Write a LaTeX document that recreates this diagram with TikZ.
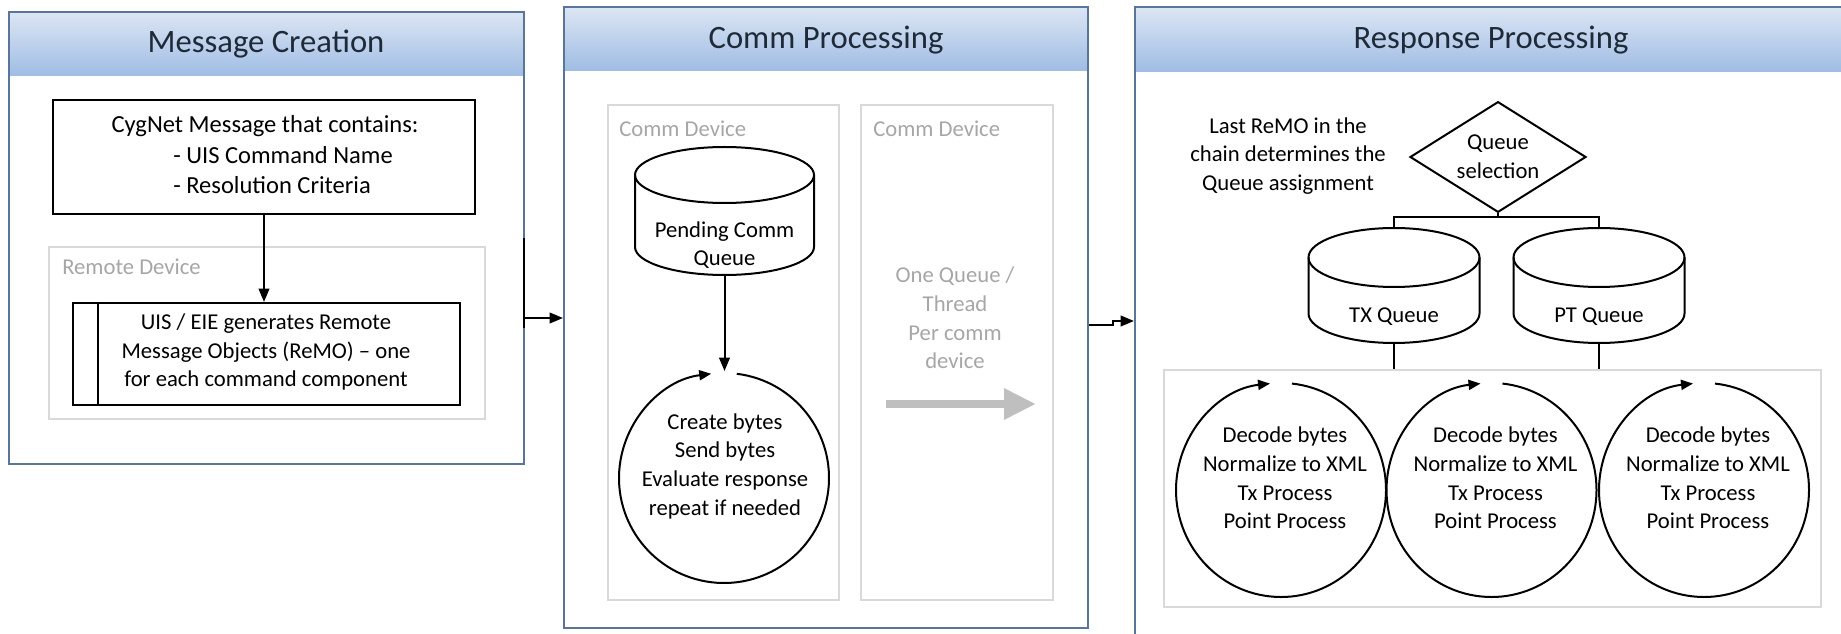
\documentclass[tikz,border=0pt]{standalone}
\usepackage{fontspec}
\setmainfont{Carlito}
\usetikzlibrary{arrows.meta,shapes.geometric,fit}

\definecolor{panelline}{HTML}{5B7599}
\definecolor{headtop}{HTML}{DCE6F4}
\definecolor{headbot}{HTML}{9FBCE4}
\definecolor{titletext}{HTML}{1F2A38}
\definecolor{grayline}{HTML}{D9D9D9}
\definecolor{graytext}{HTML}{A6A6A6}
\definecolor{grayarrow}{HTML}{BFBFBF}

\tikzset{
  line/.style={draw=black, line width=1.5pt},
  arrow/.style={line, -{Triangle[length=10pt,width=8pt]}},
  loop/.style={line, -{Triangle[length=9pt,width=7.5pt]}},
  box/.style={draw=black, line width=1.6pt, inner sep=0pt},
  grpbox/.style={draw=grayline, line width=1.3pt, inner sep=0pt},
  panel/.style={draw=panelline, line width=1.6pt, inner sep=0pt},
  txt/.style={inner sep=0.75pt, align=center, font=\fontsize{17}{21.5}\selectfont},
  bigtxt/.style={txt, font=\fontsize{18.4}{22}\selectfont},
  grptxt/.style={txt, text=graytext},
  title/.style={inner sep=0.75pt, font=\fontsize{24.5}{29}\selectfont, text=titletext},
  decision/.style={diamond, draw=black, line width=1.5pt, txt, aspect=1.6, minimum width=132pt, minimum height=83pt}
}

\begin{document}
\begin{tikzpicture}[x=0.75pt,y=0.75pt,yscale=-1,xscale=1]
%set diagram at 1841 x 634
\path[use as bounding box, clip] (0,0) rectangle (1841,634);

%Panel: Message Creation
\shade[top color=headtop, bottom color=headbot] (9,12) rectangle (524,76);
\node[panel, fit={(9,12) (524,464)}] (mc) {};
\node[title] (mctitle) at (266,44) {Message Creation};

%Shape: Rectangle [CygNet message]
\node[box, fit={(53,100) (475,214)}] (cyg) {};
% Text Node
\node[bigtxt] (cyg1) at (265,126) {CygNet Message that contains:};
% Text Node
\node[bigtxt, anchor=west] (cyg2) at (172,155) {- UIS Command Name};
% Text Node
\node[bigtxt, anchor=west] (cyg3) at (172,185) {- Resolution Criteria};

%Shape: Rectangle [remote device]
\node[grpbox, fit={(49,247) (485,419)}] (remote) {};
\node[grptxt, anchor=west] (remotelbl) at (61,267) {Remote Device};

%Shape: Predefined process [UIS / EIE]
\node[box, fit={(73,303) (460,405)}] (uis) {};
\draw[line] ([xshift=19.5pt]uis.north west) -- ([xshift=19.5pt]uis.south west);
% Text Node
\node[txt] (uistxt) at (266,352) {UIS / EIE generates Remote\\Message Objects (ReMO) – one\\for each command component};

%Straight Lines
\draw[arrow] (cyg.south) -- (cyg.south |- uis.north);

%Panel: Comm Processing
\shade[top color=headtop, bottom color=headbot] (564,7) rectangle (1088,71);
\node[panel, fit={(564,7) (1088,628)}] (cp) {};
\node[title] (cptitle) at (826,40) {Comm Processing};

%Connector Message Creation -> Comm Processing
\coordinate (j1) at (524,238);
\coordinate (j2) at (524,328);
\coordinate (j3) at (540,318);
\draw[line] (j1) -- (j2);
\draw[arrow] (mc.east |- j3) -- (cp.west |- j3);

%Shape: Rectangle [comm device 1]
\node[grpbox, fit={(608,105) (839,600)}] (dev1) {};
\node[grptxt, anchor=west] (dev1lbl) at (618,129) {Comm Device};

%Shape: Rectangle [comm device 2]
\node[grpbox, fit={(861,105) (1053,600)}] (dev2) {};
\node[grptxt, anchor=west] (dev2lbl) at (872,129) {Comm Device};

%Shape: Can [pending queue]
\draw[line] (724.5,175) ellipse [x radius=89.5, y radius=28];
\draw[line] (635,175) -- (635,247) arc [start angle=180, end angle=0, x radius=89.5, y radius=28] -- (814,175);
\coordinate (pendb) at (724.5,275);
% Text Node
\node[txt] (pend) at (724.5,245) {Pending Comm\\Queue};

%Shape: Circle [comm loop]
\coordinate (loop1) at (724,478);
\coordinate (loop1top) at (724.5,371);
\draw[loop] (loop1) ++(-83:105) arc [start angle=-83, end angle=263, radius=105];
% Text Node
\node[txt] (loop1txt) at (725,466) {Create bytes\\Send bytes\\Evaluate response\\repeat if needed};

%Straight Lines
\draw[arrow] (pendb) -- (loop1top);

% Text Node
\node[grptxt] (thread) at (955,318) {One Queue /\\Thread\\Per comm\\device};
%Right Arrow
\coordinate (ga1) at (886,404);
\coordinate (ga2) at (1036,404);
\draw[draw=grayarrow, line width=6pt, -{Triangle[length=24pt,width=22pt]}] (ga1) -- (ga2);

%Panel: Response Processing
\shade[top color=headtop, bottom color=headbot] (1135,7) rectangle (1900,72);
\node[panel, fit={(1135,7) (1900,700)}] (rp) {};
\node[title] (rptitle) at (1491,40) {Response Processing};

%Connector Comm Processing -> Response Processing
\coordinate (j4) at (1113,325);
\coordinate (j5) at (1120,321);
\draw[arrow] (cp.east |- j4) -- (j4) |- (rp.west |- j5);

% Text Node
\node[txt] (lastremo) at (1288,156) {Last ReMO in the\\chain determines the\\Queue assignment};

%Shape: Diamond [queue selection]
\node[decision] (qsel) at (1498,157) {Queue\\selection};

%Shape: Can [TX queue]
\draw[line] (1394,257.5) ellipse [x radius=85.5, y radius=29.5];
\draw[line] (1308.5,257.5) -- (1308.5,313.5) arc [start angle=180, end angle=0, x radius=85.5, y radius=29.5] -- (1479.5,257.5);
\coordinate (txtop) at (1394,228);
\coordinate (txbot) at (1394,343);
% Text Node
\node[txt] (txq) at (1394,317) {TX Queue};

%Shape: Can [PT queue]
\draw[line] (1599,257.5) ellipse [x radius=85.5, y radius=29.5];
\draw[line] (1513.5,257.5) -- (1513.5,313.5) arc [start angle=180, end angle=0, x radius=85.5, y radius=29.5] -- (1684.5,257.5);
\coordinate (pttop) at (1599,228);
\coordinate (ptbot) at (1599,343);
% Text Node
\node[txt] (ptq) at (1599,317) {PT Queue};

%Branch Lines
\coordinate (br) at (1498,217);
\draw[line] (qsel.south) -- (br);
\draw[line] (txtop) |- (br) -| (pttop);

%Shape: Rectangle [decode group]
\node[grpbox, fit={(1164,370) (1821,607)}] (decode) {};
\draw[line] (txbot) -- (txbot |- decode.north);
\draw[line] (ptbot) -- (ptbot |- decode.north);

%Shape: Circle [decode 1]
\coordinate (dec1) at (1281,490);
\draw[loop] (dec1) ++(-84:105 and 107) arc [start angle=-84, end angle=264, x radius=105, y radius=107];
\node[txt] (dec1txt) at (1285,478) {Decode bytes\\Normalize to XML\\Tx Process\\Point Process};

%Shape: Circle [decode 2]
\coordinate (dec2) at (1491.5,490);
\draw[loop] (dec2) ++(-84:105 and 107) arc [start angle=-84, end angle=264, x radius=105, y radius=107];
\node[txt] (dec2txt) at (1495.5,478) {Decode bytes\\Normalize to XML\\Tx Process\\Point Process};

%Shape: Circle [decode 3]
\coordinate (dec3) at (1704,490);
\draw[loop] (dec3) ++(-84:105 and 107) arc [start angle=-84, end angle=264, x radius=105, y radius=107];
\node[txt] (dec3txt) at (1708,478) {Decode bytes\\Normalize to XML\\Tx Process\\Point Process};

\end{tikzpicture}
\end{document}
